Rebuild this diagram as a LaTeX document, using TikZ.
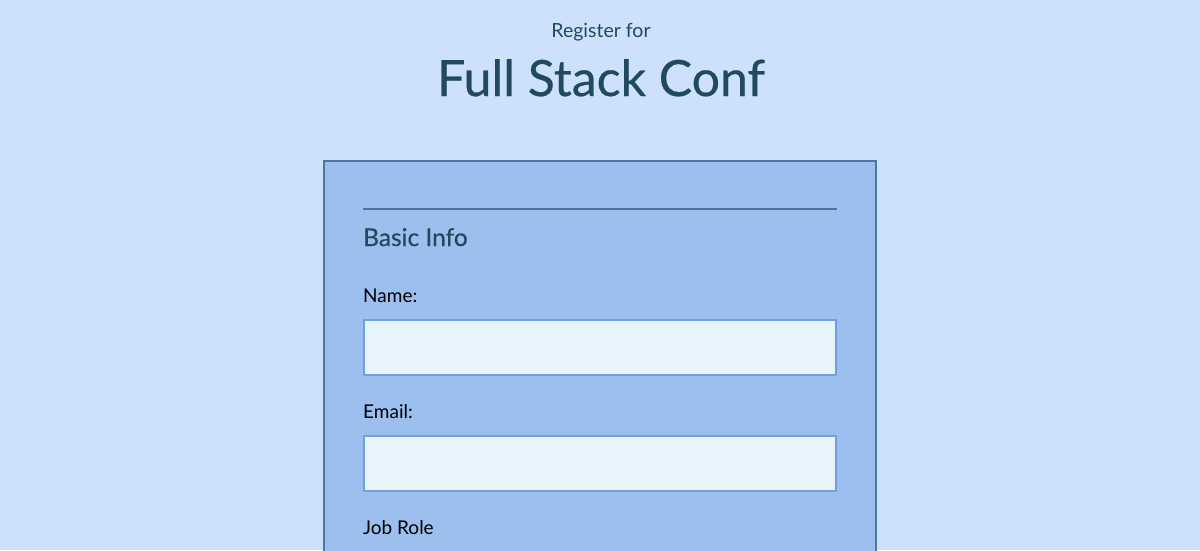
\documentclass[tikz,border=0pt]{standalone}
\usepackage{fontspec}
\setmainfont{Lato}
\newfontfamily\medfont[FakeBold=0.5]{Lato}
\definecolor{bgc}{HTML}{CDE1FB}
\definecolor{panelc}{HTML}{9DBFEE}
\definecolor{panelb}{HTML}{4A78A3}
\definecolor{rulec}{HTML}{4A7599}
\definecolor{headc}{HTML}{214A5E}
\definecolor{inputc}{HTML}{E8F5FC}
\definecolor{inputb}{HTML}{72A0DF}
\begin{document}
\begin{tikzpicture}[x=1pt,y=-1pt,
  inputbox/.style={draw=inputb,line width=2pt,fill=inputc,minimum width=472pt,minimum height=55pt,inner sep=0pt},
  lbl/.style={anchor=base west,inner sep=0pt,font=\fontsize{19}{21}\selectfont,text=black}]
\fill[bgc] (0,0) rectangle (1200,550);
\useasboundingbox (0,0) rectangle (1200,550);
\node[anchor=base,inner sep=0pt,text=headc,font=\fontsize{19.5}{22}\selectfont] (reg) at (601,37) {Register for};
\node[anchor=base,inner sep=0pt,text=headc,font=\medfont\fontsize{50}{56}\selectfont] (title) at (601,96) {Full Stack Conf};
\draw[panelb,line width=2pt,fill=panelc] (324,161) -- (876,161) -- (876,560) -- (324,560) -- cycle;
\draw[rulec,line width=2pt] (363,208.5) -- (837,208.5);
\node[anchor=base west,inner sep=0pt,text=headc,font=\medfont\fontsize{24.5}{28}\selectfont] (basic) at (363,246) {Basic Info};
\node[lbl] (namel) at (363,302) {Name:};
\node[inputbox] (namei) at (600,347.5) {};
\node[lbl] (emaill) at (363,418) {Email:};
\node[inputbox] (emaili) at (600,463.5) {};
\node[lbl] (jobl) at (363,534) {Job Role};
\end{tikzpicture}
\end{document}
